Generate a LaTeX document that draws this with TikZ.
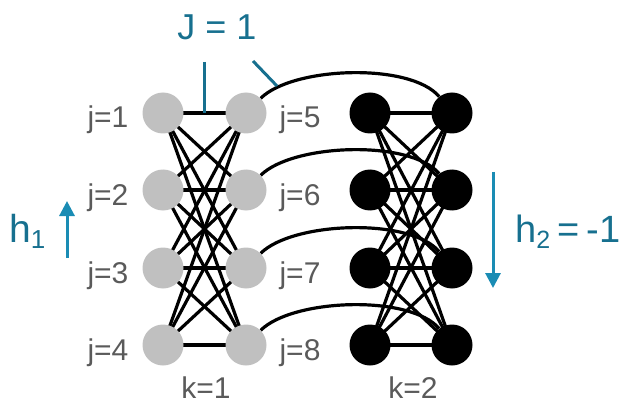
\documentclass[tikz,border=0pt]{standalone}
\usepackage{fontspec}
\setmainfont{Liberation Sans}
\usetikzlibrary{arrows.meta,backgrounds}
\definecolor{tealtxt}{HTML}{17708F}
\definecolor{tealarr}{HTML}{1A8CB4}
\definecolor{lblgrey}{HTML}{5A5A5A}
\definecolor{nodegrey}{HTML}{C0C0C0}
\begin{document}
\begin{tikzpicture}[x=1pt,y=1pt,
  spin/.style={circle,minimum size=41pt,inner sep=0pt},
  gspin/.style={spin,fill=nodegrey},
  bspin/.style={spin,fill=black},
  lbl/.style={font=\fontsize{30}{30}\selectfont,text=lblgrey,anchor=base,inner sep=0pt},
  coup/.style={line width=3.2pt,black},
  tl/.style={line width=3pt,tealtxt},
  field/.style={line width=3pt,tealarr,-{Triangle[width=15pt,length=15pt]}}]
\useasboundingbox (0,0) rectangle (631,-406);
% grey block k=1
\node[gspin] (g1) at (163,-113) {};
\node[gspin] (g2) at (163,-190) {};
\node[gspin] (g3) at (163,-268) {};
\node[gspin] (g4) at (163,-345) {};
\node[gspin] (g5) at (246,-113) {};
\node[gspin] (g6) at (246,-190) {};
\node[gspin] (g7) at (246,-268) {};
\node[gspin] (g8) at (246,-345) {};
% black block k=2
\node[bspin] (b1) at (370,-113) {};
\node[bspin] (b2) at (370,-190) {};
\node[bspin] (b3) at (370,-268) {};
\node[bspin] (b4) at (370,-345) {};
\node[bspin] (b5) at (452,-113) {};
\node[bspin] (b6) at (452,-190) {};
\node[bspin] (b7) at (452,-268) {};
\node[bspin] (b8) at (452,-345) {};
\begin{scope}[on background layer]
\foreach \i in {1,2,3,4}{
  \foreach \j in {5,6,7,8}{
    \draw[coup] (g\i.center) -- (g\j.center);
    \draw[coup] (b\i.center) -- (b\j.center);
  }
}
\foreach \j in {5,6,7,8}{
  \draw[coup] (g\j.45) .. controls +(45:45) and +(130:45) .. (b\j.128);
}
\end{scope}
% labels
\node[lbl] (l1) at (108,-128) {j=1};
\node[lbl] (l2) at (108,-205) {j=2};
\node[lbl] (l3) at (108,-283) {j=3};
\node[lbl] (l4) at (108,-360) {j=4};
\node[lbl] (l5) at (300,-128) {j=5};
\node[lbl] (l6) at (300,-205) {j=6};
\node[lbl] (l7) at (300,-283) {j=7};
\node[lbl] (l8) at (300,-360) {j=8};
\node[lbl] (k1) at (206,-398) {k=1};
\node[lbl] (k2) at (413,-398) {k=2};
% coupling annotation
\node[font=\fontsize{36}{36}\selectfont,text=tealtxt,anchor=base,inner sep=0pt] (J) at (217,-40) {J = 1};
\coordinate (ja) at (204,-62);
\coordinate (jb) at (204,-113);
\coordinate (jc) at (253,-61);
\coordinate (jd) at (277,-86);
\draw[tl] (ja) -- (jb);
\draw[tl] (jc) -- (jd);
% fields
\coordinate (h1s) at (67,-258);
\coordinate (h1e) at (67,-201);
\draw[field] (h1s) -- (h1e);
\node[font=\fontsize{39}{39}\selectfont,text=tealtxt,anchor=base west,inner sep=0pt] (h1) at (9,-242) {h\raisebox{-6pt}{\fontsize{26}{26}\selectfont 1}};
\coordinate (h2s) at (493,-172);
\coordinate (h2e) at (493,-288);
\draw[field] (h2s) -- (h2e);
\node[font=\fontsize{38}{38}\selectfont,text=tealtxt,anchor=base west,inner sep=0pt] (h2) at (515,-242) {h\raisebox{-6pt}{\fontsize{25}{25}\selectfont 2}\hspace{7pt}=\hspace{7pt}-1};
\end{tikzpicture}
\end{document}
